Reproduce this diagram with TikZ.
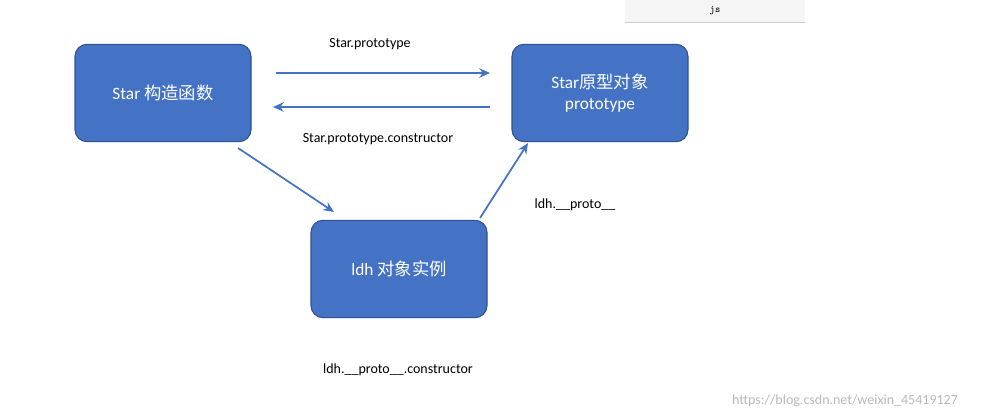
\documentclass[tikz,border=0pt]{standalone}
\usepackage{fontspec}
\setmainfont{Carlito}
\newfontfamily\cjk{Noto Sans CJK SC}
\usetikzlibrary{arrows.meta}
\definecolor{boxfill}{HTML}{4472C4}
\definecolor{boxline}{HTML}{2F528F}
\tikzset{
 bx/.style={draw=boxline,fill=boxfill,rounded corners=9pt,line width=0.8pt,minimum width=132pt,minimum height=73pt,text=white,font=\fontsize{13}{16}\selectfont,align=center},
 ar/.style={draw=boxfill,line width=1.3pt,-{Stealth[length=8pt,width=7pt]}},
 lb/.style={font=\fontsize{10.5}{12}\selectfont}
}
\begin{document}
\begin{tikzpicture}[x=0.75pt,y=-0.75pt]
\useasboundingbox[fill=white] (0,0) rectangle (991,420);
\fill[gray!8] (625,0) rectangle (805,22);
\draw[gray!40] (625,22) -- (805,22);
\node[font=\ttfamily\fontsize{7.5}{9}\selectfont] (js) at (715,11) {js};
\node[bx] (star) at (163,93) {Star {\cjk 构造函数}};
\node[bx] (proto) at (600,93) {Star{\cjk 原型对象}\\prototype};
\node[bx] (ldh) at (399,269) {ldh {\cjk 对象实例}};
\coordinate (a1) at (276,73); \coordinate (a2) at (490,73);
\coordinate (b1) at (490,107); \coordinate (b2) at (273,107);
\coordinate (c1) at (238,148); \coordinate (c2) at (334,212);
\coordinate (d1) at (480,218); \coordinate (d2) at (528,143);
\draw[ar] (a1) -- (a2);
\draw[ar] (b1) -- (b2);
\draw[ar] (c1) -- (c2);
\draw[ar] (d1) -- (d2);
\node[lb] (l1) at (370,44) {Star.prototype};
\node[lb] (l2) at (378,139) {Star.prototype.constructor};
\node[lb] (l3) at (575,205) {ldh.\_\_proto\_\_};
\node[lb] (l4) at (398,370) {ldh.\_\_proto\_\_.constructor};
\node[font=\fontsize{10.5}{12}\selectfont,text=gray!55] (wm) at (845,401) {https://blog.csdn.net/weixin\_45419127};
\end{tikzpicture}
\end{document}
